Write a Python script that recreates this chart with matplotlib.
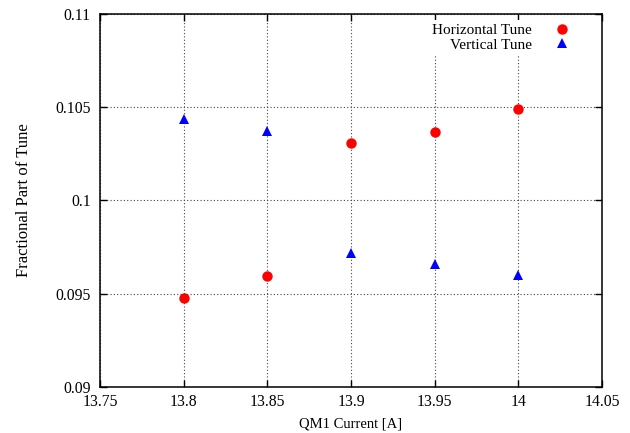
import matplotlib
matplotlib.use("Agg")
import matplotlib.pyplot as plt

# tune measurements vs QM1 current
current = [13.8, 13.85, 13.9, 13.95, 14.0]
horizontal_tune = [0.09476, 0.09595, 0.10308, 0.10367, 0.10489]
vertical_tune = [0.10436, 0.10372, 0.0972, 0.0966, 0.09602]

x_ticks = [13.75, 13.8, 13.85, 13.9, 13.95, 14.0, 14.05]
x_labels = ["13.75", "13.8", "13.85", "13.9", "13.95", "14", "14.05"]
y_ticks = [0.09, 0.095, 0.1, 0.105, 0.11]
y_labels = ["0.09", "0.095", "0.1", "0.105", "0.11"]

plt.rcParams['font.family'] = ['Liberation Serif', 'DejaVu Serif']
plt.rcParams['font.size'] = 11

fig = plt.figure(figsize=(6.3, 4.33), dpi=100)
ax = fig.add_axes([100 / 630, 1 - 387 / 433, 502 / 630, 373 / 433])

ax.plot(current, horizontal_tune, 'o', color='#ff0000', markersize=7.5,
        markeredgewidth=0, label='Horizontal Tune', zorder=3)
ax.plot(current, vertical_tune, '^', color='#0000ff', markersize=7,
        markeredgewidth=0, label='Vertical Tune', zorder=3)

ax.set_xlim(13.75, 14.05)
ax.set_ylim(0.09, 0.11)
ax.set_xticks(x_ticks)
ax.set_xticklabels(x_labels)
ax.set_yticks(y_ticks)
ax.set_yticklabels(y_labels)

ax.tick_params(direction='in', length=5, width=1, top=True, right=True,
               labelsize=11.3, pad=6.5, colors='black')
ax.tick_params(axis='x', pad=5)
for sp in ax.spines.values():
    sp.set_linewidth(1.1)

ax.grid(True, linestyle=(0, (1, 2)), color='#444444', linewidth=0.8)
ax.set_axisbelow(True)

ax.set_xlabel("QM1 Current [A]", fontsize=10.5, labelpad=5.5)
ax.set_ylabel("Fractional Part of Tune", fontsize=12, labelpad=17)

leg = ax.legend(loc='upper right', bbox_to_anchor=(0.944, 0.985),
                markerfirst=False, frameon=True, fancybox=False,
                borderaxespad=0, borderpad=0.25, handlelength=1,
                handletextpad=1.5, labelspacing=0.05, fontsize=11)
leg.get_frame().set_edgecolor('none')
leg.get_frame().set_facecolor('white')
leg.get_frame().set_alpha(1)

fig.savefig("out.png", dpi=100)
